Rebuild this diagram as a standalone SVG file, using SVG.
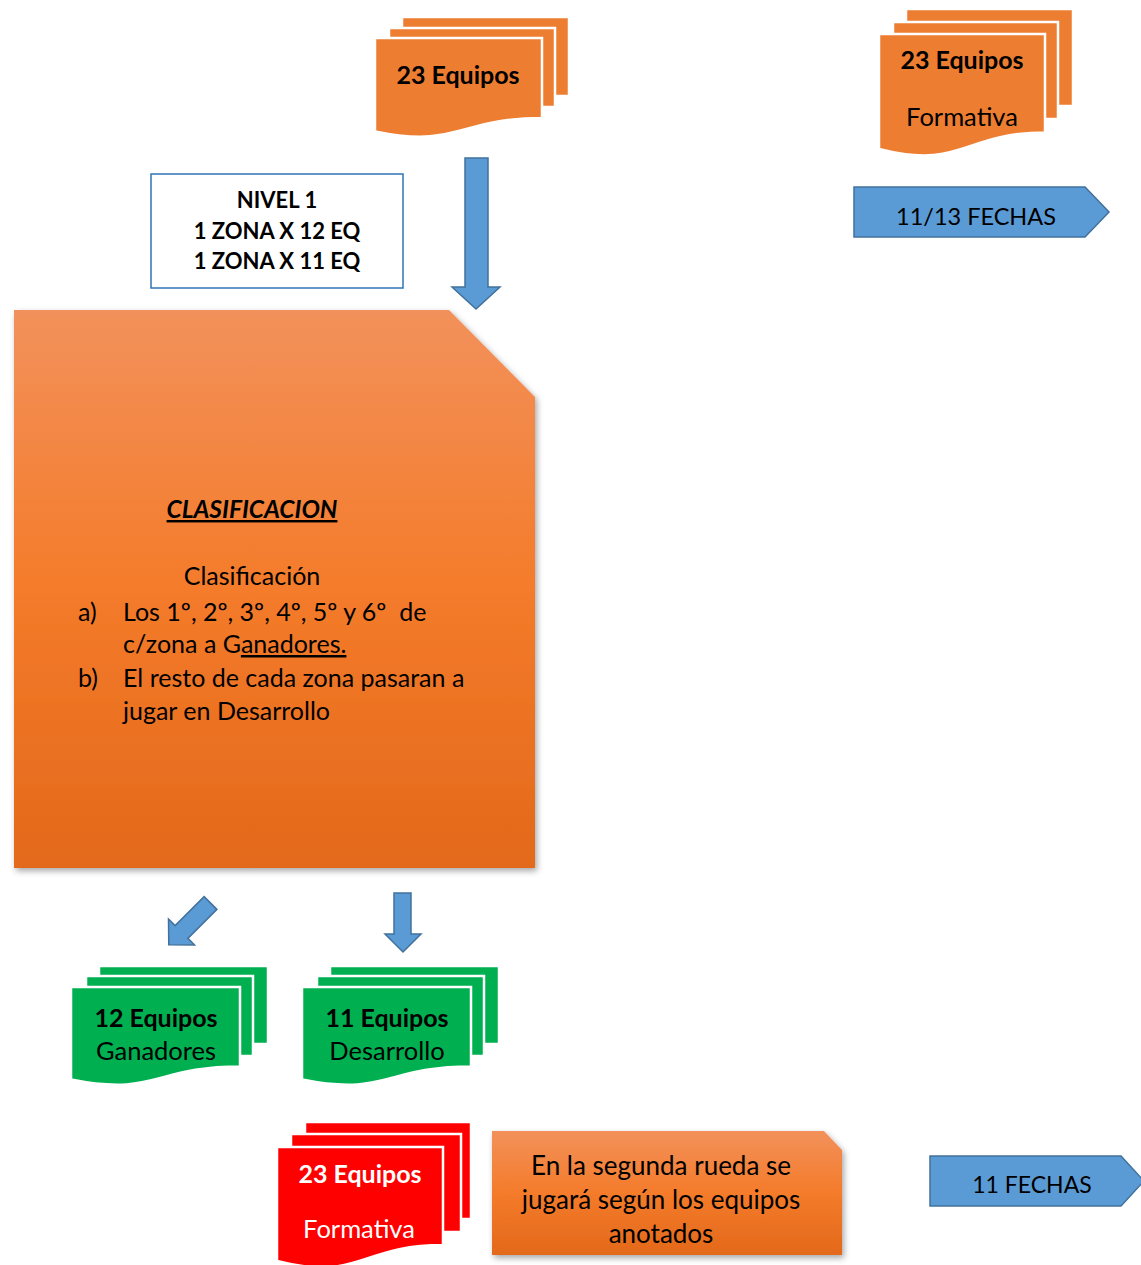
<svg xmlns="http://www.w3.org/2000/svg" width="1141" height="1265" viewBox="0 0 1141 1265">
<style>
text{font-family:Lato,"Liberation Sans",sans-serif;fill:#000}
.b{font-weight:bold}
.w{fill:#fff}
.or{fill:#ED7D31;stroke:#fff;stroke-width:2.5}
.gr{fill:#00B050;stroke:#fff;stroke-width:2.5}
.rd{fill:#FF0000;stroke:#fff;stroke-width:2.5}
.arr{fill:#5B9BD5;stroke:#41719C;stroke-width:1.5}
.lb{font-size:25px;text-anchor:middle}
.lr{font-size:25.5px;text-anchor:middle}
.li{font-size:25px}
</style>
<defs>
<linearGradient id="og" x1="0" y1="0" x2="0" y2="1">
<stop offset="0" stop-color="#F2915B"/>
<stop offset="0.5" stop-color="#F47B2A"/>
<stop offset="1" stop-color="#E3691B"/>
</linearGradient>
<filter id="sh" x="-10%" y="-10%" width="125%" height="125%">
<feDropShadow dx="2" dy="3" stdDeviation="3" flood-color="#000" flood-opacity="0.35"/>
</filter>
</defs>

<g id="connectors">
<path class="arr" d="M465,158 H488 V287 H500 L476,309 L452,287 H465 Z"/>
<path class="arr" transform="translate(210.5,903) rotate(135)" d="M0,-9 H41 V-18.4 L59,0 L41,18.4 V9 H0 Z"/>
<path class="arr" d="M394,893 H411 V934 H421 L403,952 L385,934 H394 Z"/>
</g>

<g id="docs-top">
<rect class="or" x="402" y="17" width="167" height="79"/>
<rect class="or" x="389" y="28" width="166" height="79"/>
<path class="or" d="M375,38 H542 V118 C458.5,118 458.5,148.7 375,131.4 Z"/>
<text class="b lb" x="458" y="84">23 Equipos</text>
</g>

<g id="docs-formativa-top">
<rect class="or" x="906" y="9" width="167" height="97"/>
<rect class="or" x="893" y="22" width="165" height="97"/>
<path class="or" d="M879,34 H1045 V132.6 C962,132.6 962,170.2 879,148.9 Z"/>
<text class="b lb" x="962" y="69">23 Equipos</text>
<text class="lr" x="962" y="126">Formativa</text>
</g>

<g id="fechas-top">
<path class="arr" d="M854,187 H1085 L1109,212 L1085,237 H854 Z"/>
<text x="976" y="225" font-size="23.5" text-anchor="middle">11/13 FECHAS</text>
</g>

<g id="nivel">
<rect x="151" y="174" width="252" height="114" fill="#fff" stroke="#2E75B6" stroke-width="1.5"/>
<text class="b" x="277" y="208" font-size="22" text-anchor="middle">NIVEL 1</text>
<text class="b" x="277" y="239" font-size="22" text-anchor="middle">1 ZONA X 12 EQ</text>
<text class="b" x="277" y="269" font-size="22" text-anchor="middle">1 ZONA X 11 EQ</text>
</g>

<g id="clasificacion">
<path d="M14,310 H449 L535,397 V868 H14 Z" fill="url(#og)" filter="url(#sh)"/>
<text class="b" x="252" y="518" font-size="24.5" font-style="italic" text-anchor="middle" text-decoration="underline">CLASIFICACION</text>
<text x="252" y="585" font-size="25" text-anchor="middle">Clasificación</text>
<text class="li" x="78" y="621">a)</text>
<text class="li" x="123" y="621" xml:space="preserve">Los 1º, 2º, 3º, 4º, 5º y 6º  de</text>
<text class="li" x="123" y="653">c/zona a G<tspan text-decoration="underline">anadores.</tspan></text>
<text class="li" x="78" y="687">b)</text>
<text class="li" x="123" y="687">El resto de cada zona pasaran a</text>
<text class="li" x="123" y="720">jugar en Desarrollo</text>
</g>

<g id="ganadores">
<rect class="gr" x="99" y="966" width="169" height="78"/>
<rect class="gr" x="86" y="976" width="167" height="80"/>
<path class="gr" d="M71,987 H240 V1066.4 C155.5,1066.4 155.5,1096.6 71,1079.5 Z"/>
<text class="b lb" x="156" y="1027">12 Equipos</text>
<text class="lr" x="156" y="1060">Ganadores</text>
</g>

<g id="desarrollo">
<rect class="gr" x="330" y="966" width="169" height="78"/>
<rect class="gr" x="317" y="976" width="167" height="80"/>
<path class="gr" d="M302,987 H471 V1066.4 C386.5,1066.4 386.5,1096.6 302,1079.5 Z"/>
<text class="b lb" x="387" y="1027">11 Equipos</text>
<text class="lr" x="387" y="1060">Desarrollo</text>
</g>

<g id="formativa-bottom">
<rect class="rd" x="305" y="1122" width="166" height="97"/>
<rect class="rd" x="291" y="1134" width="170" height="98"/>
<path class="rd" d="M277,1147 H443 V1245 C360,1245 360,1282 277,1261 Z"/>
<text class="b w lb" x="360" y="1183">23 Equipos</text>
<text class="w lr" x="359" y="1238">Formativa</text>
</g>

<g id="nota">
<path d="M492,1131 H824 L842,1150 V1255 H492 Z" fill="url(#og)" filter="url(#sh)"/>
<text x="661" y="1175" font-size="26" text-anchor="middle">En la segunda rueda se</text>
<text x="661" y="1209" font-size="26" text-anchor="middle">jugará según los equipos</text>
<text x="661" y="1243" font-size="26" text-anchor="middle">anotados</text>
</g>

<g id="fechas-bottom">
<path class="arr" d="M930,1156 H1121 L1144,1181 L1121,1206 H930 Z"/>
<text x="1032" y="1193" font-size="23" text-anchor="middle">11 FECHAS</text>
</g>
</svg>
